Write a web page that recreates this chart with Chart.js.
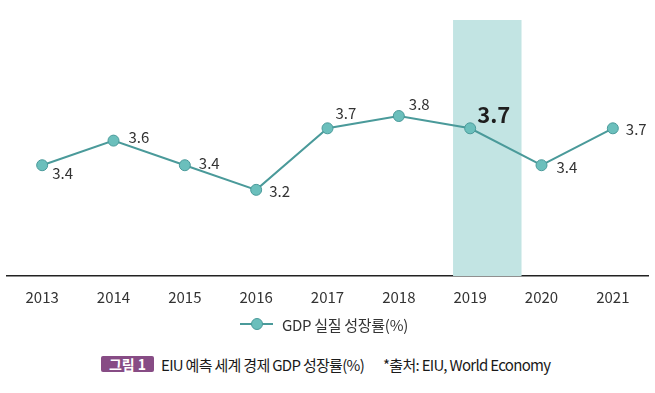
<!DOCTYPE html>
<html><head><meta charset="utf-8">
<script src="https://cdn.jsdelivr.net/npm/chart.js@4/dist/chart.umd.min.js"></script>
<style>
html,body{margin:0;padding:0;background:#fff;width:655px;height:393px;overflow:hidden;font-family:"Noto Sans CJK KR","Noto Sans",sans-serif;}
#wrap{position:absolute;left:0;top:0;width:655px;height:322px;}
.legend{position:absolute;top:314px;left:240px;height:20px;display:flex;align-items:center;font-size:15px;color:#333;letter-spacing:-0.3px;}
.legend .mk{position:relative;width:33px;height:20px;margin-right:9px;}
.legend .mk .ln{position:absolute;left:0;top:9px;width:33px;height:2px;background:#4a9a9a;}
.legend .mk .pt{position:absolute;left:11px;top:4px;width:10px;height:10px;border-radius:50%;background:#6bbfbc;border:1px solid #4a9a9a;}
.cap{position:absolute;top:355px;left:101px;height:18px;display:flex;align-items:center;font-size:15px;color:#1a1a1a;letter-spacing:-0.7px;white-space:nowrap;}
.cap .box{background:#874c85;color:#fff;font-weight:bold;font-size:14px;width:53px;height:16px;line-height:16px;text-align:center;border-radius:2px;margin-right:7px;letter-spacing:0;}
.cap .src{margin-left:19px;}
</style></head>
<body>
<div id="wrap"><canvas id="c" width="655" height="322"></canvas></div>
<div class="legend"><div class="mk"><div class="ln"></div><div class="pt"></div></div><span>GDP 실질 성장률(%)</span></div>
<div class="cap"><span class="box">그림 1</span><span>EIU 예측 세계 경제 GDP 성장률(%)</span><span class="src">*출처: EIU, World Economy</span></div>
<script>
const years = ["2013","2014","2015","2016","2017","2018","2019","2020","2021"];
const growth = [3.4, 3.6, 3.4, 3.2, 3.7, 3.8, 3.7, 3.4, 3.7];
const highlightYear = "2019";
const seriesName = "GDP 실질 성장률(%)";

// label offsets (style only)
const labelOffsets = [[10,8],[15,-3],[14,-2],[13,1],[8,-15],[10,-12],[7,-14],[15,2],[13,1]];

const bandPlugin = {
  id:'band',
  beforeDatasetsDraw(chart){
    const x = chart.scales.x, ca = chart.chartArea, ctx = chart.ctx;
    const i = years.indexOf(highlightYear);
    const step = x.getPixelForValue(1) - x.getPixelForValue(0);
    const cx = x.getPixelForValue(i);
    ctx.save();
    ctx.fillStyle = '#c2e4e3';
    ctx.fillRect(cx - 0.24*step, ca.top, 0.96*step, ca.bottom - ca.top);
    ctx.restore();
  }
};
const labelPlugin = {
  id:'lbl',
  afterDatasetsDraw(chart){
    const ctx = chart.ctx;
    const meta = chart.getDatasetMeta(0);
    ctx.save();
    ctx.textAlign='left'; ctx.textBaseline='middle';
    meta.data.forEach((p,i)=>{
      const hi = years[i]===highlightYear;
      ctx.fillStyle = hi ? '#1e1e1e' : '#333';
      ctx.font = hi ? '600 22px "Noto Sans CJK KR"' : '15px "Noto Sans CJK KR"';
      ctx.fillText(growth[i].toFixed(1), p.x + labelOffsets[i][0], p.y + labelOffsets[i][1]);
    });
    ctx.restore();
  }
};

new Chart(document.getElementById('c'), {
  type:'line',
  data:{labels:years, datasets:[{label:seriesName, data:growth, borderColor:'#4a9a9a', borderWidth:2,
    pointBackgroundColor:'#6bbfbc', pointBorderColor:'#4a9a9a', pointBorderWidth:1, pointRadius:5.5, tension:0, clip:false}]},
  options:{
    responsive:false, animation:false, devicePixelRatio:1,
    layout:{padding:{left:2,right:4,top:20,bottom:4}},
    plugins:{legend:{display:false}, tooltip:{enabled:false}},
    scales:{
      x:{offset:true, grid:{display:false, drawTicks:false}, border:{display:true,color:'#222',width:1.6},
         ticks:{color:'#333', padding:12, font:{family:'"Noto Sans CJK KR"', size:15}},
         afterFit(s){ s.paddingLeft = 0; s.paddingRight = 0; }},
      y:{display:false, min:2.5, max:4.58}
    }
  },
  plugins:[bandPlugin,labelPlugin]
});
</script>
</body></html>
